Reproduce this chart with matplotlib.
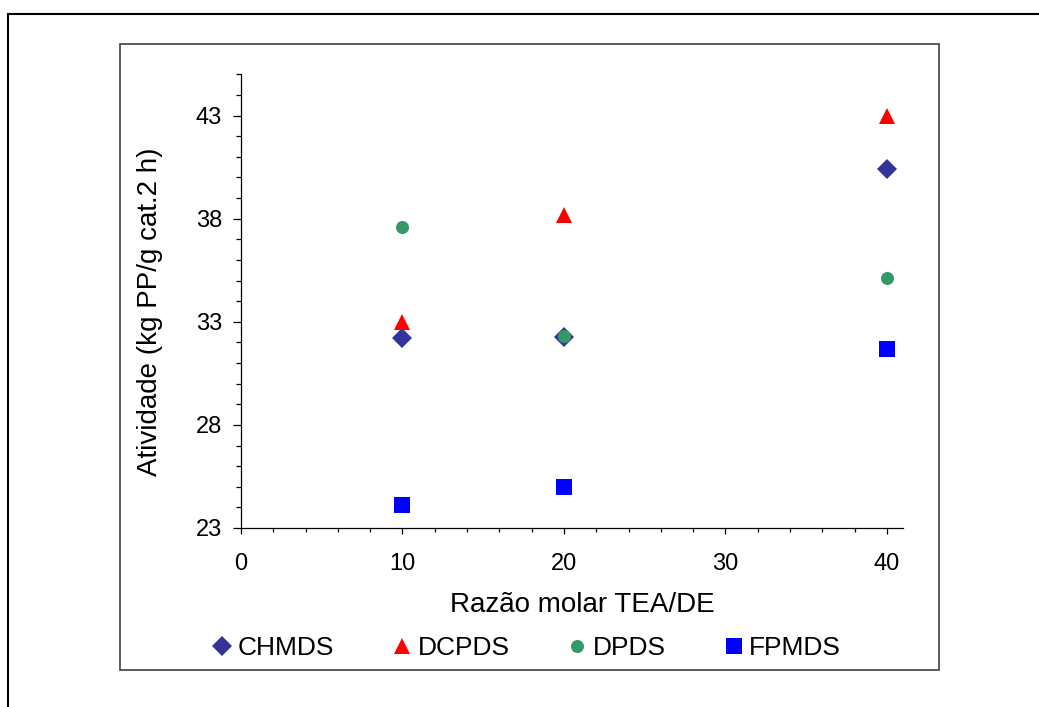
import matplotlib.pyplot as plt
from matplotlib.patches import Rectangle
from matplotlib.ticker import MultipleLocator

plt.rcParams['font.family'] = ['Liberation Sans', 'DejaVu Sans']

# TEA/DE molar ratio and activity (kg PP / g cat . 2 h) for each donor
razao = [10, 20, 40]
chmds = [32.2, 32.25, 40.4]
dcpds = [33.0, 38.2, 43.0]
dpds = [37.6, 32.3, 35.1]
fpmds = [24.1, 25.0, 31.7]

W, H = 1039, 707
fig = plt.figure(figsize=(W / 100, H / 100), dpi=100)

def fx(px):
    return px / W

def fy(py):
    return 1 - py / H

# outer frame and chart-area frame
fig.patches.append(Rectangle((fx(8), fy(1000)), fx(1200), fy(14) - fy(1000),
                             transform=fig.transFigure, fill=False,
                             edgecolor='black', linewidth=1.5))
fig.patches.append(Rectangle((fx(120), fy(670)), fx(939) - fx(120), fy(44) - fy(670),
                             transform=fig.transFigure, fill=False,
                             edgecolor='#404040', linewidth=1.2))

ax = fig.add_axes([fx(241), fy(528), fx(903) - fx(241), fy(74.3) - fy(528)])

ax.plot(razao, chmds, linestyle='none', marker='D', markersize=10.2,
        color='#333399', markeredgewidth=0, label='CHMDS')
ax.plot(razao, dcpds, linestyle='none', marker='^', markersize=12,
        color='#FF0000', markeredgewidth=0, label='DCPDS')
ax.plot(razao, dpds, linestyle='none', marker='o', markersize=9.4,
        color='#339966', markeredgewidth=0, label='DPDS')
ax.plot(razao, fpmds, linestyle='none', marker='s', markersize=12,
        color='#0000FF', markeredgewidth=0, label='FPMDS')

ax.set_xlim(0, 41)
ax.set_ylim(23, 45)
ax.xaxis.set_major_locator(MultipleLocator(10))
ax.xaxis.set_minor_locator(MultipleLocator(2))
ax.set_yticks([23, 28, 33, 38, 43])
ax.yaxis.set_minor_locator(MultipleLocator(1))

for side in ('top', 'right'):
    ax.spines[side].set_visible(False)
for side in ('left', 'bottom'):
    ax.spines[side].set_linewidth(0.9)

ax.tick_params(axis='y', which='major', length=5.5, width=0.9, pad=8, labelsize=17)
ax.tick_params(axis='y', which='minor', length=3.8, width=0.9)
ax.tick_params(axis='x', which='major', length=4, width=0.9, pad=14, labelsize=17)
ax.tick_params(axis='x', which='minor', length=3, width=0.9)

fig.text(fx(582), fy(605), 'Razão molar TEA/DE', fontsize=20,
         ha='center', va='center')
fig.text(fx(150), fy(312), 'Atividade (kg PP/g cat.2 h)', fontsize=20,
         ha='center', va='center', rotation=90)

fig.legend(loc='center left', bbox_to_anchor=(fx(213), fy(648)), ncol=4,
           frameon=False, fontsize=19, handlelength=0.7, handletextpad=0.24,
           columnspacing=2.22, borderpad=0, borderaxespad=0, numpoints=1)

fig.savefig('out.png', dpi=100)
